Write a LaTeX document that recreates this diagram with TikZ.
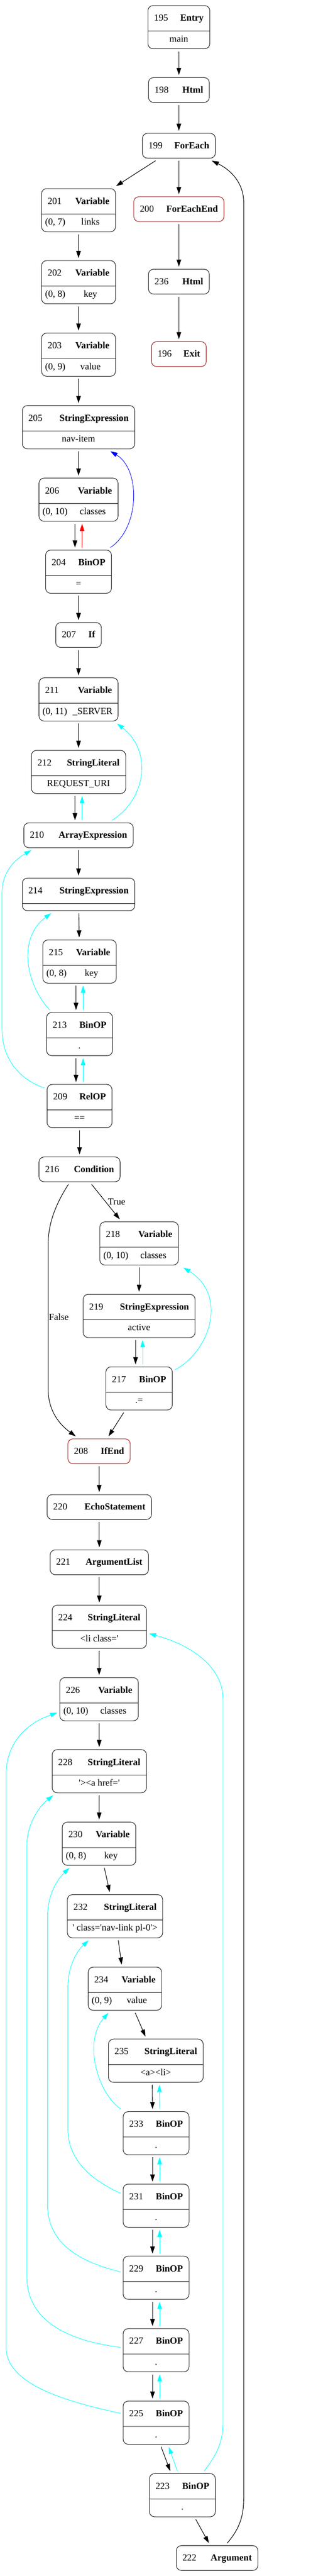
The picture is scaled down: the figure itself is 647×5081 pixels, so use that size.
\documentclass[tikz,border=0pt]{standalone}
\usepackage{fontspec}
\setmainfont{Liberation Serif}
\usetikzlibrary{shapes.multipart, arrows.meta}
\definecolor{endred}{RGB}{165,35,35}
\definecolor{dfcyan}{RGB}{0,255,255}
\definecolor{dfblue}{RGB}{0,0,255}
\definecolor{dfred}{RGB}{255,0,0}
\tikzstyle{astbox} = [draw=black!85, line width=1.1pt, rounded corners=10pt,
    rectangle split, rectangle split parts=2, inner sep=0pt, outer sep=5pt, anchor=north]
\tikzstyle{stmtbox} = [draw=black!85, line width=1.1pt, rounded corners=10pt,
    rectangle, inner sep=0pt, outer sep=5pt, anchor=north]
\tikzstyle{endbox} = [stmtbox, draw=endred]
\tikzstyle{flow} = [-{Triangle[length=14pt, width=9pt]}, line width=1.1pt]
\tikzstyle{dataflow} = [flow, dfcyan, line width=0.9pt]
\newcommand{\headpart}[3]{\makebox[#1pt]{\rule[-19pt]{0pt}{49pt}\hspace{12pt}#2\hfill\textbf{#3}\hspace{12pt}}}
\newcommand{\varpart}[3]{\makebox[#1pt]{\rule[-13pt]{0pt}{34pt}\hspace{7pt}#2\hfill #3\hfill}}
\newcommand{\valpart}[2]{\makebox[#1pt]{\rule[-13pt]{0pt}{34pt}#2}}

\begin{document}
\begin{tikzpicture}[x=1pt, y=-1pt, font=\fontsize{18.5}{22}\selectfont]
\useasboundingbox (0,0) rectangle (647,5081);

% loop head and exit
\node[astbox] (n195) at (353,6) {\headpart{122}{195}{Entry}\nodepart{two}\valpart{122}{main}};
\node[stmtbox] (n198) at (353,148) {\headpart{120}{198}{Html}};
\node[stmtbox] (n199) at (353,258) {\headpart{144}{199}{ForEach}};
\node[endbox] (n200) at (353,383) {\headpart{178}{200}{ForEachEnd}};
\node[stmtbox] (n236) at (353,526) {\headpart{120}{236}{Html}};
\node[endbox] (n196) at (353,669) {\headpart{108}{196}{Exit}};

% loop body
\node[astbox] (n201) at (155,367) {\headpart{146}{201}{Variable}\nodepart{two}\varpart{146}{(0, 7)}{links}};
\node[astbox] (n202) at (155,509) {\headpart{146}{202}{Variable}\nodepart{two}\varpart{146}{(0, 8)}{key}};
\node[astbox] (n203) at (155,652) {\headpart{146}{203}{Variable}\nodepart{two}\varpart{146}{(0, 9)}{value}};
\node[astbox] (n205) at (155,795) {\headpart{222}{205}{StringExpression}\nodepart{two}\valpart{222}{nav-item}};
\node[astbox] (n206) at (155,938) {\headpart{156}{206}{Variable}\nodepart{two}\varpart{156}{(0, 10)}{classes}};
\node[astbox] (n204) at (155,1080) {\headpart{130}{204}{BinOP}\nodepart{two}\valpart{130}{=}};
\node[stmtbox] (n207) at (155,1223) {\headpart{90}{207}{If}};
\node[astbox] (n211) at (155,1332) {\headpart{156}{211}{Variable}\nodepart{two}\varpart{156}{(0, 11)}{\_SERVER}};
\node[astbox] (n212) at (155,1475) {\headpart{186}{212}{StringLiteral}\nodepart{two}\valpart{186}{REQUEST\_URI}};
\node[stmtbox] (n210) at (155,1618) {\headpart{216}{210}{ArrayExpression}};
\node[astbox] (n214) at (155,1727) {\headpart{222}{214}{StringExpression}\nodepart{two}\makebox[222pt]{\rule[-6pt]{0pt}{13pt}}};
\node[astbox] (n215) at (157,1849) {\headpart{145}{215}{Variable}\nodepart{two}\varpart{145}{(0, 8)}{key}};
\node[astbox] (n213) at (157,1992) {\headpart{130}{213}{BinOP}\nodepart{two}\valpart{130}{.}};
\node[astbox] (n209) at (157,2134) {\headpart{128}{209}{RelOP}\nodepart{two}\valpart{128}{==}};
\node[stmtbox] (n216) at (157,2277) {\headpart{160}{216}{Condition}};
\node[astbox] (n218) at (274.5,2405) {\headpart{155}{218}{Variable}\nodepart{two}\varpart{155}{(0, 10)}{classes}};
\node[astbox] (n219) at (274.5,2548) {\headpart{221}{219}{StringExpression}\nodepart{two}\valpart{221}{active}};
\node[astbox] (n217) at (274.5,2691) {\headpart{131}{217}{BinOP}\nodepart{two}\valpart{131}{.=}};
\node[endbox] (n208) at (195.5,2833) {\headpart{123}{208}{IfEnd}};

% echo
\node[stmtbox] (n220) at (196,2943) {\headpart{206}{220}{EchoStatement}};
\node[stmtbox] (n221) at (196,3052) {\headpart{194}{221}{ArgumentList}};
\node[astbox] (n224) at (196,3161) {\headpart{186}{224}{StringLiteral}\nodepart{two}\valpart{186}{<li class=\textquotesingle}};
\node[astbox] (n226) at (195.5,3304) {\headpart{155}{226}{Variable}\nodepart{two}\varpart{155}{(0, 10)}{classes}};
\node[astbox] (n228) at (196,3446) {\headpart{186}{228}{StringLiteral}\nodepart{two}\valpart{186}{\textquotesingle><a href=\textquotesingle}};
\node[astbox] (n230) at (195.5,3589) {\headpart{145}{230}{Variable}\nodepart{two}\varpart{145}{(0, 8)}{key}};
\node[astbox] (n232) at (227,3732) {\headpart{188}{232}{StringLiteral}\nodepart{two}\valpart{188}{\textquotesingle{} class=\textquotesingle nav-link pl-0\textquotesingle>}};
\node[astbox] (n234) at (246.5,3875) {\headpart{145}{234}{Variable}\nodepart{two}\varpart{145}{(0, 9)}{value}};
\node[astbox] (n235) at (307.5,4017) {\headpart{187}{235}{StringLiteral}\nodepart{two}\valpart{187}{<a><li>}};
\node[astbox] (n233) at (308,4160) {\headpart{130}{233}{BinOP}\nodepart{two}\valpart{130}{.}};
\node[astbox] (n231) at (308,4303) {\headpart{130}{231}{BinOP}\nodepart{two}\valpart{130}{.}};
\node[astbox] (n229) at (308,4445) {\headpart{130}{229}{BinOP}\nodepart{two}\valpart{130}{.}};
\node[astbox] (n227) at (308,4588) {\headpart{130}{227}{BinOP}\nodepart{two}\valpart{130}{.}};
\node[astbox] (n225) at (308,4731) {\headpart{130}{225}{BinOP}\nodepart{two}\valpart{130}{.}};
\node[astbox] (n223) at (360,4874) {\headpart{130}{223}{BinOP}\nodepart{two}\valpart{130}{.}};
\node[stmtbox] (n222) at (428.5,5016) {\headpart{161}{222}{Argument}};

% control flow
\draw[flow] (n195) -- (n198);
\draw[flow] (n198) -- (n199);
\draw[flow] (n199) -- (n201);
\draw[flow] (n199) -- (n200);
\draw[flow] (n200) -- (n236);
\draw[flow] (n236) -- (n196);
\draw[flow] (n201) -- (n202);
\draw[flow] (n202) -- (n203);
\draw[flow] (n203) -- (n205);
\draw[flow] (n205) -- (n206);
\draw[flow] ([xshift=-7pt]n206.south) -- ([xshift=-7pt]n204.north);
\draw[flow] (n204) -- (n207);
\draw[flow] (n207) -- (n211);
\draw[flow] (n211) -- (n212);
\draw[flow] ([xshift=-7pt]n212.south) -- ([xshift=-7pt]n210.north);
\draw[flow] (n210) -- (n214);
\draw[flow] (n214) -- (n215);
\draw[flow] ([xshift=-7pt]n215.south) -- ([xshift=-7pt]n213.north);
\draw[flow] ([xshift=-7pt]n213.south) -- ([xshift=-7pt]n209.north);
\draw[flow] (n209) -- (n216);
\draw[flow] (n216) -- node[right, inner sep=4pt, pos=0.5] {True} (n218);
\draw[flow] ([xshift=-22pt]n216.south) .. controls (112,2372) and (95,2410) .. (95,2455)
    -- node[right, inner sep=1pt] {False} (95,2740)
    .. controls (95,2780) and (115,2808) .. ([xshift=-46pt]n208.north);
\draw[flow] (n218) -- (n219);
\draw[flow] ([xshift=-7pt]n219.south) -- ([xshift=-7pt]n217.north);
\draw[flow] (n217) -- (n208);
\draw[flow] (n208) -- (n220);
\draw[flow] (n220) -- (n221);
\draw[flow] (n221) -- (n224);
\draw[flow] (n224) -- (n226);
\draw[flow] (n226) -- (n228);
\draw[flow] (n228) -- (n230);
\draw[flow] (n230) -- (n232);
\draw[flow] (n232) -- (n234);
\draw[flow] (n234) -- (n235);
\draw[flow] ([xshift=-7pt]n235.south) -- ([xshift=-7pt]n233.north);
\draw[flow] ([xshift=-7pt]n233.south) -- ([xshift=-7pt]n231.north);
\draw[flow] ([xshift=-7pt]n231.south) -- ([xshift=-7pt]n229.north);
\draw[flow] ([xshift=-7pt]n229.south) -- ([xshift=-7pt]n227.north);
\draw[flow] ([xshift=-7pt]n227.south) -- ([xshift=-7pt]n225.north);
\draw[flow] ([xshift=10pt]n225.south) -- ([xshift=-24pt]n223.north);
\draw[flow] (n223) -- (n222);
\draw[flow] ([xshift=20pt]n222.north) .. controls (475,4985) and (481,4960) .. (481,4925)
    -- (481,400) .. controls (481,360) and (455,335) .. ([xshift=-12pt]n199.south east);

% data flow
\draw[flow, dfred, line width=0.9pt] ([xshift=7pt]n204.north) -- ([xshift=7pt]n206.south);
\draw[flow, dfblue, line width=0.9pt] ([xshift=-7pt]n204.north east) .. controls (277,1040) and (277,925) .. ([xshift=63pt]n205.south);
\draw[dataflow] ([xshift=7pt]n210.north) -- ([xshift=7pt]n212.south);
\draw[dataflow] ([xshift=66pt]n210.north) .. controls (290,1575) and (300,1480) .. ([xshift=-7pt]n211.south east);
\draw[dataflow] ([xshift=7pt]n213.north) -- ([xshift=7pt]n215.south);
\draw[dataflow] ([xshift=-59pt]n213.north) .. controls (50,1940) and (35,1850) .. ([xshift=-54pt]n214.south);
\draw[dataflow] ([xshift=7pt]n209.north) -- ([xshift=7pt]n213.south);
\draw[dataflow] ([yshift=-12pt]n209.north west) .. controls (40,2130) and (4,2090) .. (4,2030)
    -- (4,1760) .. controls (4,1720) and (30,1695) .. ([xshift=20pt]n210.south west);
\draw[dataflow] ([xshift=7pt]n217.north) -- ([xshift=7pt]n219.south);
\draw[dataflow] ([yshift=-11pt]n217.north east) .. controls (415,2665) and (450,2555) .. ([xshift=5pt]n218.south east);
\draw[dataflow] ([xshift=7pt]n233.north) -- ([xshift=7pt]n235.south);
\draw[dataflow] (n233.north west) .. controls (190,4125) and (165,4025) .. ([xshift=45pt]n234.south west);
\draw[dataflow] ([xshift=7pt]n231.north) -- ([xshift=7pt]n233.south);
\draw[dataflow] ([yshift=-23pt]n231.north west) .. controls (180,4300) and (134,4260) .. (134,4200)
    -- (134,3920) .. controls (134,3880) and (150,3850) .. ([xshift=47pt]n232.south west);
\draw[dataflow] ([xshift=7pt]n229.north) -- ([xshift=7pt]n231.south);
\draw[dataflow] ([yshift=-36pt]n229.north west) .. controls (150,4460) and (94,4420) .. (94,4350)
    -- (94,3780) .. controls (94,3740) and (110,3710) .. ([xshift=19pt]n230.south west);
\draw[dataflow] ([xshift=7pt]n227.north) -- ([xshift=7pt]n229.south);
\draw[dataflow] ([yshift=-42pt]n227.north west) .. controls (120,4615) and (53,4570) .. (53,4490)
    -- (53,3640) .. controls (53,3600) and (75,3565) .. ([xshift=7pt]n228.south west);
\draw[dataflow] ([xshift=7pt]n225.north) -- ([xshift=7pt]n227.south);
\draw[dataflow] ([yshift=-29pt]n225.north west) .. controls (120,4735) and (12,4700) .. (12,4630)
    -- (12,3500) .. controls (12,3440) and (50,3400) .. ([yshift=21pt]n226.south west);
\draw[dataflow] ([xshift=-10pt]n223.north) -- ([xshift=25pt]n225.south);
\draw[dataflow] ([xshift=-27pt]n223.north east) .. controls (425,4845) and (440,4820) .. (440,4780)
    -- (440,3350) .. controls (440,3290) and (380,3245) .. ([yshift=34pt]n224.south east);
\end{tikzpicture}
\end{document}
